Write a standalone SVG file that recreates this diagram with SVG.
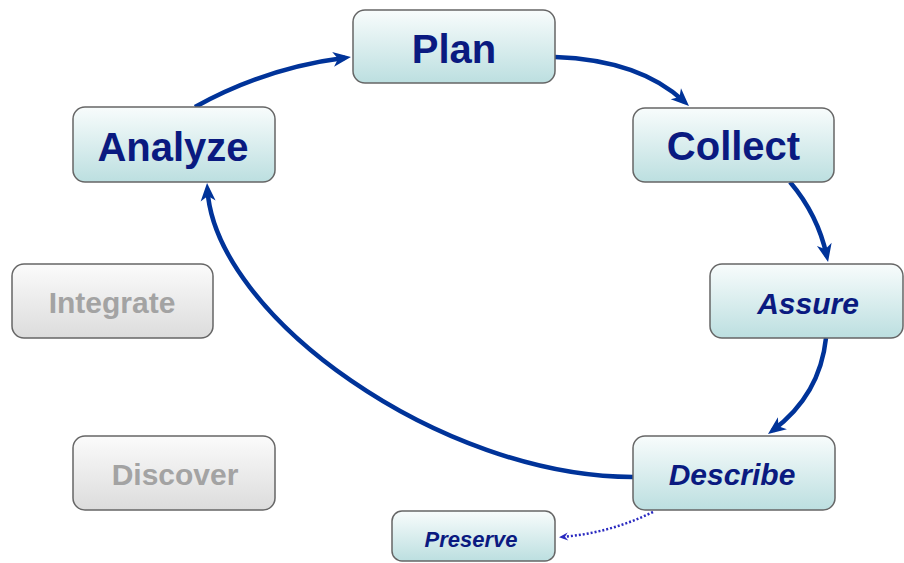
<svg xmlns="http://www.w3.org/2000/svg" width="904" height="563" viewBox="0 0 904 563">
<defs>
<linearGradient id="gBlue" x1="0" y1="0" x2="0" y2="1">
<stop offset="0" stop-color="#f8fcfc"/>
<stop offset="1" stop-color="#bcdfe0"/>
</linearGradient>
<linearGradient id="gGray" x1="0" y1="0" x2="0" y2="1">
<stop offset="0" stop-color="#fbfbfb"/>
<stop offset="1" stop-color="#dcdcdc"/>
</linearGradient>
<marker id="arr" markerUnits="userSpaceOnUse" markerWidth="30" markerHeight="20" viewBox="-20 -10 30 20" refX="0" refY="0" orient="auto">
<path d="M6,0 L-12,-7.5 L-7,0 L-12,7.5 Z" fill="#003399"/>
</marker>
<marker id="arrS" markerUnits="userSpaceOnUse" markerWidth="16" markerHeight="12" viewBox="-10 -6 16 12" refX="0" refY="0" orient="auto">
<path d="M3,0 L-6,-4 L-3,0 L-6,4 Z" fill="#2a2ac0"/>
</marker>
</defs>
<style>
.box{stroke:#666;stroke-width:1.5;fill:url(#gBlue)}
.gbox{stroke:#666;stroke-width:1.5;fill:url(#gGray)}
.t{font-family:"Liberation Sans",Arial,sans-serif;font-weight:bold;fill:#0a1a80;text-anchor:middle}
.big{font-size:40px}
.mid{font-size:30px}
.it{font-style:italic}
.gt{fill:#a3a3a3}
.con{fill:none;stroke:#003399;stroke-width:4.5;marker-end:url(#arr)}
.dot{fill:none;stroke:#2a2ac0;stroke-width:2.5;stroke-dasharray:2 2;marker-end:url(#arrS)}
</style>
<g id="connectors">
<path class="con" d="M195,107 Q265,68 345,57.8"/>
<path class="con" d="M555,57 Q640,60 684.6,101.9"/>
<path class="con" d="M790,182 Q818,215 826.8,256.1"/>
<path class="con" d="M826,338 Q820,395 772.8,430.4"/>
<path class="con" d="M633,477 C441,477 215,316 207.4,189"/>
<path class="dot" d="M653,512 Q610,533 562,537"/>
</g>
<g id="plan">
<rect class="box" x="353" y="10" width="202" height="73" rx="12"/>
<text class="t big" x="454" y="62.5">Plan</text>
</g>
<g id="collect">
<rect class="box" x="633" y="108" width="201" height="74" rx="12"/>
<text class="t big" x="733.5" y="159.5">Collect</text>
</g>
<g id="assure">
<rect class="box" x="710" y="264" width="193" height="74" rx="12"/>
<text class="t mid it" x="808" y="314">Assure</text>
</g>
<g id="describe">
<rect class="box" x="633" y="436" width="202" height="74" rx="12"/>
<text class="t mid it" x="732" y="485">Describe</text>
</g>
<g id="preserve">
<rect class="box" x="392" y="511" width="163" height="50" rx="10"/>
<text class="t it" x="471" y="547" style="font-size:22px">Preserve</text>
</g>
<g id="analyze">
<rect class="box" x="73" y="107" width="202" height="75" rx="12"/>
<text class="t big" x="173" y="161">Analyze</text>
</g>
<g id="integrate">
<rect class="gbox" x="12" y="264" width="201" height="74" rx="12"/>
<text class="t mid gt" x="112" y="313">Integrate</text>
</g>
<g id="discover">
<rect class="gbox" x="73" y="436" width="202" height="74" rx="12"/>
<text class="t mid gt" x="175" y="485">Discover</text>
</g>
</svg>
